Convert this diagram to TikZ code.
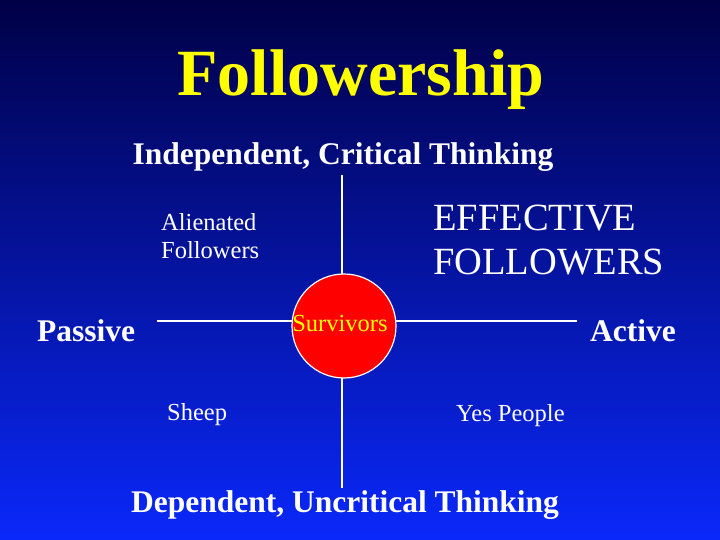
\documentclass[tikz,border=0pt]{standalone}
\usepackage{fontspec}
\setmainfont{Liberation Serif}
\definecolor{topblue}{RGB}{0,0,70}
\definecolor{botblue}{RGB}{10,40,250}
\definecolor{ttl}{RGB}{255,255,0}
\definecolor{redc}{RGB}{255,0,0}
\begin{document}
\begin{tikzpicture}[x=1pt,y=-1pt,
  lbl/.style={text=white,font=\fontsize{31.5}{34}\selectfont\bfseries,inner sep=0},
  small/.style={text=white,font=\fontsize{24.5}{28}\selectfont,inner sep=0,align=left},
  axis/.style={white,line width=1.2pt}]
\shade[top color=topblue,bottom color=botblue] (0,0) rectangle (720,540);
\useasboundingbox (0,0) rectangle (720,540);
\node[text=ttl,font=\fontsize{66}{68}\selectfont\bfseries,inner sep=0] (title) at (361,80) {Followership};
\node[lbl] (top) at (343,157) {Independent, Critical Thinking};
\node[lbl] (bottom) at (345,505) {Dependent, Uncritical Thinking};
\node[lbl,anchor=west] (passive) at (37,331) {Passive};
\node[lbl,anchor=east] (active) at (676,331) {Active};
\coordinate (vt) at (342,175);
\coordinate (vb) at (342,488);
\coordinate (hl) at (157,321);
\coordinate (hr) at (577,321);
\draw[axis] (vt) -- (vb);
\draw[axis] (hl) -- (hr);
\node[circle,fill=redc,draw=white,line width=1.2pt,minimum size=104pt,inner sep=0] (circ) at (344,326) {};
\node[text=ttl,font=\fontsize{24.5}{26}\selectfont,inner sep=0] (surv) at (340,324) {Survivors};
\node[small,anchor=west] (alien) at (161,236) {Alienated\\Followers};
\node[text=white,font=\fontsize{38.5}{44}\selectfont,inner sep=0,align=left,anchor=west] (eff) at (433,240) {EFFECTIVE\\FOLLOWERS};
\node[small,anchor=west] (sheep) at (167,415) {Sheep};
\node[small,anchor=west] (yes) at (456,416) {Yes People};
\end{tikzpicture}
\end{document}
